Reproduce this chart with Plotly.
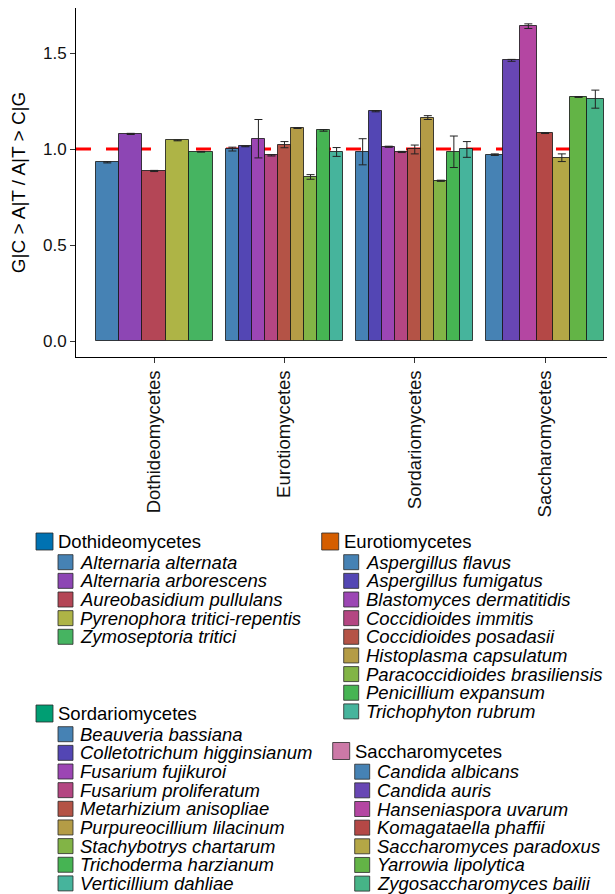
import plotly.graph_objects as go

# ---------------- data ----------------
groups = ["Dothideomycetes", "Eurotiomycetes", "Sordariomycetes", "Saccharomycetes"]

doth_species = ["Alternaria alternata", "Alternaria arborescens", "Aureobasidium pullulans",
                "Pyrenophora tritici-repentis", "Zymoseptoria tritici"]
doth_values = [0.931, 1.079, 0.886, 1.045, 0.986]
doth_errors = [0.003, 0.003, 0.003, 0.002, 0.002]

euro_species = ["Aspergillus flavus", "Aspergillus fumigatus", "Blastomyces dermatitidis",
                "Coccidioides immitis", "Coccidioides posadasii", "Histoplasma capsulatum",
                "Paracoccidioides brasiliensis", "Penicillium expansum", "Trichophyton rubrum"]
euro_values = [1.000, 1.014, 1.054, 0.967, 1.023, 1.109, 0.855, 1.097, 0.985]
euro_errors = [0.010, 0.002, 0.100, 0.003, 0.016, 0.002, 0.012, 0.004, 0.023]

sord_species = ["Beauveria bassiana", "Colletotrichum higginsianum", "Fusarium fujikuroi",
                "Fusarium proliferatum", "Metarhizium anisopliae", "Purpureocillium lilacinum",
                "Stachybotrys chartarum", "Trichoderma harzianum", "Verticillium dahliae"]
sord_values = [0.986, 1.197, 1.012, 0.985, 0.998, 1.164, 0.835, 0.986, 0.998]
sord_errors = [0.068, 0.003, 0.003, 0.003, 0.023, 0.010, 0.003, 0.082, 0.041]

sacc_species = ["Candida albicans", "Candida auris", "Hanseniaspora uvarum",
                "Komagataella phaffii", "Saccharomyces paradoxus", "Yarrowia lipolytica",
                "Zygosaccharomyces bailii"]
sacc_values = [0.971, 1.462, 1.640, 1.083, 0.955, 1.271, 1.260]
sacc_errors = [0.004, 0.005, 0.012, 0.002, 0.020, 0.002, 0.047]

y_ticks = [0.0, 0.5, 1.0, 1.5]
reference_level = 1.0
y_title = "G|C > A|T / A|T > C|G"

# ---------------- style ----------------
group_colors = ["#0072B2", "#D55E00", "#009E73", "#CC79A7"]
FONT = "Liberation Sans, Arial, sans-serif"
PAGE_OFF = 8                      # default body margin of the html page
W, H = 615 - PAGE_OFF, 894 - PAGE_OFF
# plot area in page pixels
L_PX, R_PX, T_PX, B_PX = 76, 615, 8, 357
DODGE = 0.9
CAT_PX = 130.3                    # pixels per category

species_sets = [doth_species, euro_species, sord_species, sacc_species]
value_sets = [doth_values, euro_values, sord_values, sacc_values]
error_sets = [doth_errors, euro_errors, sord_errors, sacc_errors]


def species_colors(n):
    return [f"hsl({(207 + i * 360.0 / n) % 360:.1f},44%,49%)" for i in range(n)]


fig = go.Figure()

for g, sp, vals, errs in zip(groups, species_sets, value_sets, error_sets):
    n = len(sp)
    w = DODGE / n
    fig.add_trace(go.Bar(
        x=[g] * n, y=vals, width=[w] * n,
        offset=[-DODGE / 2 + i * w for i in range(n)],
        text=sp, hoverinfo="text+y",
        textposition="none",
        marker=dict(color=species_colors(n), line=dict(color="rgba(20,20,20,0.8)", width=1)),
        error_y=dict(type="data", array=errs, color="#222222", thickness=1, width=4),
        showlegend=False,
    ))

# y range with ggplot-like 5% expansion
ymax = max(v + e for vals, errs in zip(value_sets, error_sets) for v, e in zip(vals, errs))
pad = 0.05 * ymax
x_end = -0.6 + (R_PX - L_PX) / CAT_PX

fig.add_shape(type="line", xref="paper", x0=0, x1=1, yref="y", y0=reference_level, y1=reference_level,
              line=dict(color="#FF0000", width=3, dash="15px,15px"), layer="below")

# ---------------- custom legend ----------------
pw = R_PX - L_PX
ph = B_PX - T_PX


def px_x(p):
    return (p - L_PX) / pw


def px_y(p):
    return (B_PX - p) / ph


blocks = [(36, 541.5), (321.7, 541.5), (36, 713.5), (332.7, 751.0)]
HEAD_SQ, SP_SQ = 17, 15
HEAD_TXT_DX, SP_SQ_DX, SP_TXT_DX = 21, 22, 43.4
FIRST_DY, STEP = 20.7, 18.65
LEG_FONT = 18.5

for (bx, by), g, gc, sp in zip(blocks, groups, group_colors, species_sets):
    fig.add_shape(type="rect", xref="paper", yref="paper",
                  x0=px_x(bx), x1=px_x(bx + HEAD_SQ), y0=px_y(by - HEAD_SQ / 2), y1=px_y(by + HEAD_SQ / 2),
                  fillcolor=gc, line=dict(color="rgba(40,40,40,0.8)", width=1))
    fig.add_annotation(xref="paper", yref="paper", x=px_x(bx + HEAD_TXT_DX), y=px_y(by),
                       xanchor="left", yanchor="middle", text=g, showarrow=False, borderpad=0,
                       font=dict(family=FONT, size=LEG_FONT, color="#000000"))
    cols = species_colors(len(sp))
    for i, (name, c) in enumerate(zip(sp, cols)):
        cy = by + FIRST_DY + i * STEP
        fig.add_shape(type="rect", xref="paper", yref="paper",
                      x0=px_x(bx + SP_SQ_DX), x1=px_x(bx + SP_SQ_DX + SP_SQ),
                      y0=px_y(cy - SP_SQ / 2), y1=px_y(cy + SP_SQ / 2),
                      fillcolor=c, line=dict(color="rgba(40,40,40,0.8)", width=1))
        fig.add_annotation(xref="paper", yref="paper", x=px_x(bx + SP_TXT_DX), y=px_y(cy),
                           xanchor="left", yanchor="middle", text=f"<i>{name}</i>", showarrow=False,
                           borderpad=0, font=dict(family=FONT, size=LEG_FONT, color="#000000"))

fig.update_layout(
    width=W, height=H,
    margin=dict(l=L_PX - PAGE_OFF, r=615 - R_PX, t=T_PX - PAGE_OFF,
                b=894 - B_PX, pad=0),
    paper_bgcolor="white", plot_bgcolor="white",
    barmode="overlay", bargap=0,
    font=dict(family=FONT, color="#000000"),
    showlegend=False,
)
fig.update_xaxes(
    type="category", categoryorder="array", categoryarray=groups,
    range=[-0.6, x_end], showline=True, linecolor="#000000", linewidth=1,
    ticks="outside", ticklen=5, tickcolor="#333333", tickwidth=1,
    tickangle=-90, tickfont=dict(family=FONT, size=18.5, color="#111111"),
    showgrid=False, zeroline=False,
)
fig.update_yaxes(
    range=[-pad, ymax + pad], tickvals=y_ticks, tickformat=".1f",
    showline=True, linecolor="#000000", linewidth=1,
    ticks="outside", ticklen=5, tickcolor="#333333", tickwidth=1,
    tickfont=dict(family=FONT, size=17, color="#111111"),
    title=dict(text=y_title, font=dict(family=FONT, size=19, color="#000000"), standoff=12),
    showgrid=False, zeroline=False,
)

fig.write_html("out.html")
